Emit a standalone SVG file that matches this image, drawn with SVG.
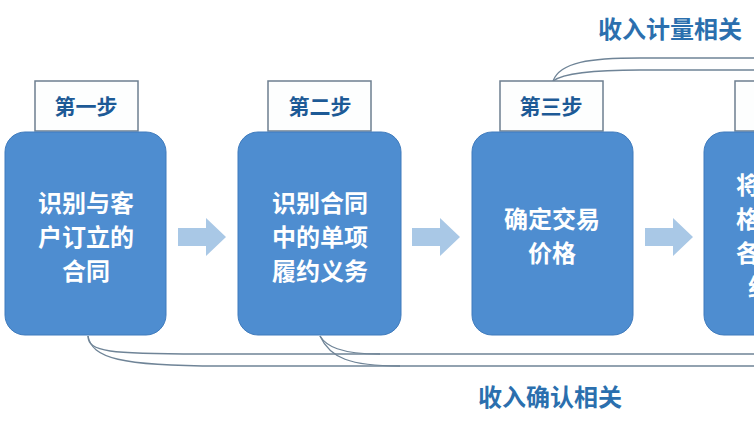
<svg xmlns="http://www.w3.org/2000/svg" width="754" height="424" viewBox="0 0 754 424">
<defs>
<style>
.box{fill:#4e8dd0;stroke:#3f7bbd;stroke-width:1}
.tab{fill:#fdfefe;stroke:#6d7f90;stroke-width:1.5}
.bt{font-family:"Noto Sans CJK SC",sans-serif;font-weight:bold;font-size:24px;fill:#fff;text-anchor:middle}
.tt{font-family:"Noto Sans CJK SC",sans-serif;font-weight:bold;font-size:21px;fill:#1d5a96;text-anchor:middle}
.lab{font-family:"Noto Sans CJK SC",sans-serif;font-weight:bold;font-size:24px;fill:#2b6fae;text-anchor:middle}
.arr{fill:#a9c8e6}
.br{fill:none;stroke:#6f8497;stroke-width:1.3}
</style>
</defs>
<rect width="754" height="424" fill="#fff"/>
<g id="connectors">
<path class="arr" d="M178 228h28v-10l20 19-20 19v-10h-28z"/>
<path class="arr" d="M412 228h28v-10l20 19-20 19v-10h-28z"/>
<path class="arr" d="M645 228h28v-10l20 19-20 19v-10h-28z"/>
<path class="br" d="M553 81C560 62 590 58 640 58H754"/>
<path class="br" d="M553 81C565 72 600 70 640 70H754"/>
<path class="br" d="M88 336C88 352 110 354 200 354H754"/>
<path class="br" d="M88 336C92 358 120 366 220 366H754"/>
<path class="br" d="M320 336C326 346 340 354 380 354"/>
<path class="br" d="M320 336C330 358 350 366 400 366"/>
</g>
<g id="step1">
<rect class="tab" x="35" y="81" width="103" height="50"/>
<text class="tt" x="86" y="114">第一步</text>
<rect class="box" x="5" y="132" width="161" height="203" rx="20"/>
<text class="bt" x="86" y="212">识别与客</text>
<text class="bt" x="86" y="246">户订立的</text>
<text class="bt" x="86" y="280">合同</text>
</g>
<g id="step2">
<rect class="tab" x="268" y="81" width="103" height="50"/>
<text class="tt" x="320" y="114">第二步</text>
<rect class="box" x="238" y="132" width="163" height="203" rx="20"/>
<text class="bt" x="320" y="212">识别合同</text>
<text class="bt" x="320" y="246">中的单项</text>
<text class="bt" x="320" y="280">履约义务</text>
</g>
<g id="step3">
<rect class="tab" x="500" y="81" width="103" height="50"/>
<text class="tt" x="551" y="114">第三步</text>
<rect class="box" x="472" y="132" width="161" height="203" rx="20"/>
<text class="bt" x="552" y="228">确定交易</text>
<text class="bt" x="552" y="262">价格</text>
</g>
<g id="step4">
<rect class="tab" x="735" y="81" width="103" height="50"/>
<text class="tt" x="786" y="114">第四步</text>
<rect class="box" x="704" y="132" width="161" height="203" rx="20"/>
<text class="bt" x="784" y="194">将交易价</text>
<text class="bt" x="784" y="228">格分摊至</text>
<text class="bt" x="784" y="262">各单项履</text>
<text class="bt" x="784" y="296">约义务</text>
</g>
<text class="lab" x="670" y="38">收入计量相关</text>
<text class="lab" x="550" y="406">收入确认相关</text>
</svg>
